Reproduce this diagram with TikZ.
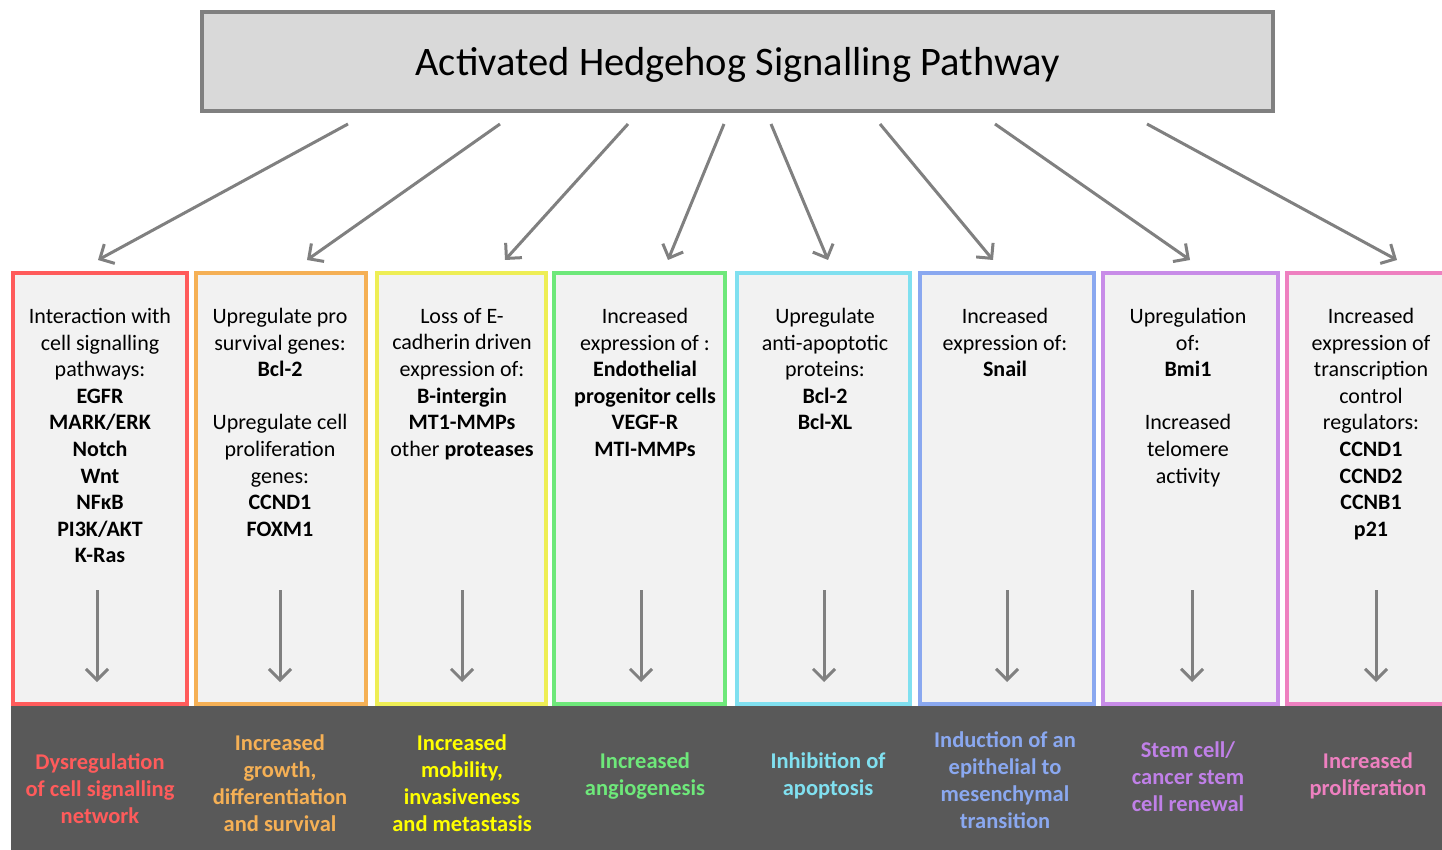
\documentclass[tikz,border=0pt]{standalone}
\usepackage{fontspec}
\setmainfont{Carlito}
\usetikzlibrary{arrows.meta}
\definecolor{cA}{HTML}{FF5B5B}
\definecolor{cB}{HTML}{F5B055}
\definecolor{cC}{HTML}{EEEE55}
\definecolor{cD}{HTML}{6EE87A}
\definecolor{cE}{HTML}{80E0F0}
\definecolor{cF}{HTML}{8AA8F0}
\definecolor{cG}{HTML}{C88CE8}
\definecolor{cH}{HTML}{EE80C0}
\definecolor{tC}{HTML}{FFFF00}
\definecolor{tG}{HTML}{C080E8}
\definecolor{band}{HTML}{595959}
\definecolor{arr}{HTML}{808080}
\definecolor{boxfill}{HTML}{F2F2F2}
\definecolor{titlefill}{HTML}{D9D9D9}
\begin{document}
\begin{tikzpicture}[x=1pt,y=-1pt,
  titlebox/.style={draw=arr, line width=4pt, fill=titlefill, inner sep=0pt, text depth=0pt,
    font=\fontsize{40.5}{46}\selectfont},
  colbox/.style={draw=#1, line width=4pt, fill=boxfill, minimum height=431pt, inner sep=0pt},
  coltext/.style={anchor=north, align=center, inner sep=0pt, font=\fontsize{22}{26.6}\selectfont},
  restext/.style={align=center, inner sep=0pt, text=#1, font=\fontsize{22.5}{27}\selectfont\bfseries},
  harrow/.style={draw=arr, line width=3pt, -{Straight Barb[length=11pt,width=22pt,line width=3pt]}},
]
\useasboundingbox (0,0) rectangle (1442,850);
\fill[white] (0,0) rectangle (1442,850);
\fill[band] (11,706) rectangle (1442,850);

\node[titlebox, minimum width=1071pt, minimum height=99pt] (title) at (737.5,61.5) {Activated Hedgehog Signalling Pathway};

\node[colbox=cA, minimum width=174pt] (b1) at (100,488.5) {};
\node[colbox=cB, minimum width=170pt] (b2) at (281,488.5) {};
\node[colbox=cC, minimum width=169pt] (b3) at (461.5,488.5) {};
\node[colbox=cD, minimum width=171pt] (b4) at (639.5,488.5) {};
\node[colbox=cE, minimum width=173pt] (b5) at (823.5,488.5) {};
\node[colbox=cF, minimum width=174pt] (b6) at (1007,488.5) {};
\node[colbox=cG, minimum width=175pt] (b7) at (1190.5,488.5) {};
\node[colbox=cH, minimum width=175pt] (b8) at (1374.5,488.5) {};

% column texts
\node[coltext] (t1) at (100,308) {Interaction with\\cell signalling\\pathways:\\\textbf{EGFR}\\\textbf{MARK/ERK}\\\textbf{Notch}\\\textbf{Wnt}\\\textbf{NFκB}\\\textbf{PI3K/AKT}\\\textbf{K-Ras}};
\node[coltext] (t2) at (280,308) {Upregulate pro\\survival genes:\\\textbf{Bcl-2}\\[26.6pt]Upregulate cell\\proliferation\\genes:\\\textbf{CCND1}\\\textbf{FOXM1}};
\node[coltext] (t3) at (462,308) {Loss of E-\\cadherin driven\\expression of:\\\textbf{B-intergin}\\\textbf{MT1-MMPs}\\other \textbf{proteases}};
\node[coltext] (t4) at (645,308) {Increased\\expression of :\\\textbf{Endothelial}\\\textbf{progenitor cells}\\\textbf{VEGF-R}\\\textbf{MTI-MMPs}};
\node[coltext] (t5) at (825,308) {Upregulate\\anti-apoptotic\\proteins:\\\textbf{Bcl-2}\\\textbf{Bcl-XL}};
\node[coltext] (t6) at (1005,308) {Increased\\expression of:\\\textbf{Snail}};
\node[coltext] (t7) at (1188,308) {Upregulation\\of:\\\textbf{Bmi1}\\[26.6pt]Increased\\telomere\\activity};
\node[coltext] (t8) at (1371,308) {Increased\\expression of\\transcription\\control\\regulators:\\\textbf{CCND1}\\\textbf{CCND2}\\\textbf{CCNB1}\\\textbf{p21}};

% result texts
\node[restext=cA] (r1) at (100,789) {Dysregulation\\of cell signalling\\network};
\node[restext=cB] (r2) at (280,783) {Increased\\growth,\\differentiation\\and survival};
\node[restext=tC] (r3) at (462,783) {Increased\\mobility,\\invasiveness\\and metastasis};
\node[restext=cD] (r4) at (645,776) {Increased\\angiogenesis};
\node[restext=cE] (r5) at (828,776) {Inhibition of\\apoptosis};
\node[restext=cF] (r6) at (1005,780) {Induction of an\\epithelial to\\mesenchymal\\transition};
\node[restext=tG] (r7) at (1188,777) {Stem cell/\\cancer stem\\cell renewal};
\node[restext=cH] (r8) at (1368,776) {Increased\\proliferation};

% arrow end points
\coordinate (s1) at (348,124); \coordinate (e1) at (98,260);
\coordinate (s2) at (500,124); \coordinate (e2) at (307,260);
\coordinate (s3) at (628,124); \coordinate (e3) at (505,260);
\coordinate (s4) at (724,124); \coordinate (e4) at (668,260);
\coordinate (s5) at (771,124); \coordinate (e5) at (828,260);
\coordinate (s6) at (880,124); \coordinate (e6) at (993,260);
\coordinate (s7) at (995,124); \coordinate (e7) at (1190,260);
\coordinate (s8) at (1147,124); \coordinate (e8) at (1397,260);
\foreach \i in {1,...,8} \draw[harrow] (s\i) -- (e\i);

\foreach \i/\x in {1/97,2/280,3/462,4/641,5/824,6/1007,7/1192,8/1376} {
  \coordinate (v\i s) at (\x,590);
  \coordinate (v\i e) at (\x,682);
  \draw[harrow] (v\i s) -- (v\i e);
}
\end{tikzpicture}
\end{document}
